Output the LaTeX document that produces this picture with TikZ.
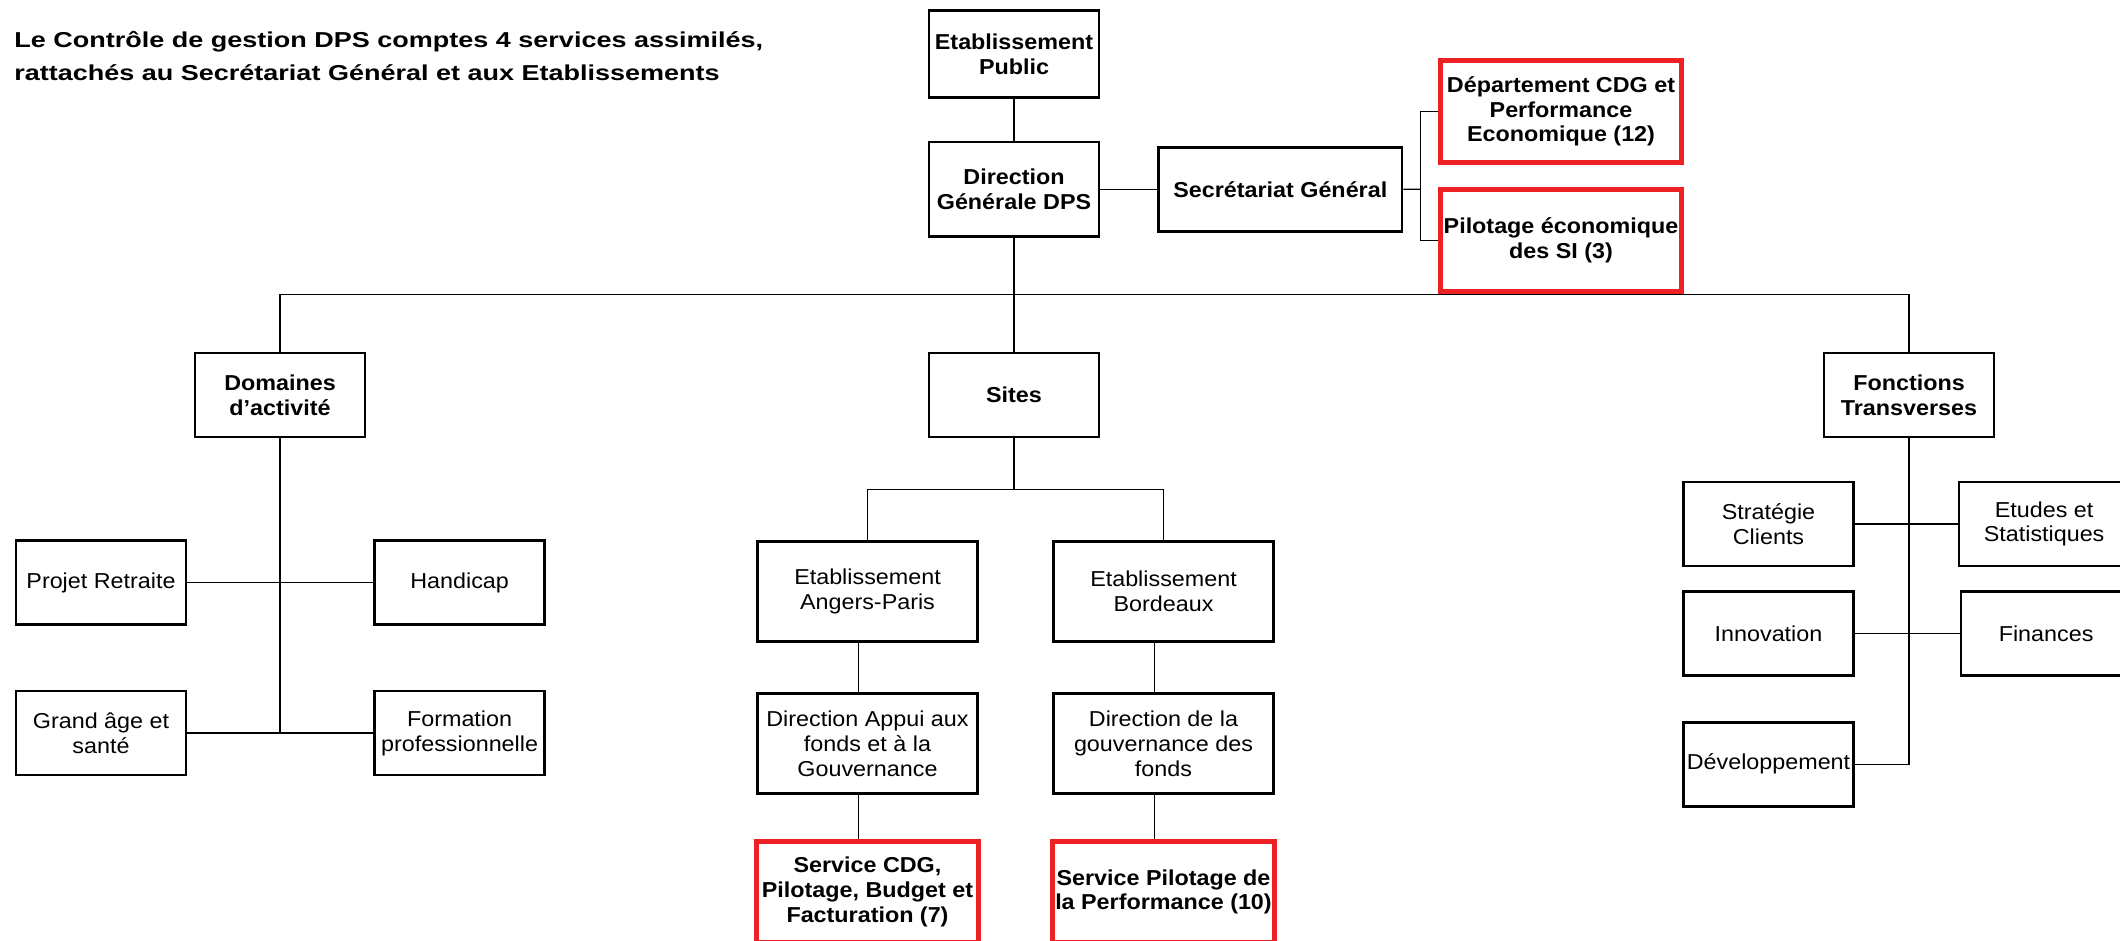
\documentclass[tikz,border=0pt]{standalone}
\usepackage{fontspec}
\setmainfont{Liberation Sans}[FakeStretch=1.08]
\newfontfamily\headfont{Liberation Sans}[FakeStretch=1.25]
\usetikzlibrary{positioning,calc}
\definecolor{cdgred}{RGB}{237,32,36}

\begin{document}
\begin{tikzpicture}[
    x=0.5pt, y=-0.5pt,
    box/.style={draw, line width=1.3pt, align=center, inner sep=1pt, font=\fontsize{10.8}{12.4}\selectfont},
    unit/.style={box, font=\fontsize{10.8}{12.4}\selectfont\bfseries, minimum width=85pt, minimum height=42pt},
    leaf/.style={box, minimum width=85pt, minimum height=42pt},
    site/.style={box, minimum width=110.2pt, minimum height=50.2pt},
    cdg/.style={box, draw=cdgred, line width=2.5pt, font=\fontsize{10.8}{12.4}\selectfont\bfseries, minimum width=120.5pt, minimum height=51pt},
    link/.style={line width=0.65pt},
    title/.style={font=\headfont\fontsize{10.8}{16.5}\selectfont\bfseries, align=left, inner sep=0pt}
  ]
  \path[use as bounding box] (0,0) rectangle (2120,941);

  % Title
  \node[title, anchor=north west] (title) at (14,31) {Le Contrôle de gestion DPS comptes 4 services assimilés,\\rattachés au Secrétariat Général et aux Etablissements};

  % Main components
  \node[unit, minimum height=43.5pt] (ep) at (1014,54) {Etablissement\\Public};
  \node[unit, minimum height=47.2pt, below=21pt of ep] (dg) {Direction\\Générale DPS};
  \node[unit, minimum width=121.7pt, right=28.5pt of dg] (sg) {Secrétariat Général};
  \node[cdg] (cdg_perf) at (1561,111.5) {Département CDG et\\Performance\\Economique (12)};
  \node[cdg, below=11pt of cdg_perf] (pilot_si) {Pilotage économique\\des SI (3)};

  % Second level
  \node[unit] (domaines) at (280,395) {Domaines\\d’activité};
  \node[unit] (sites) at (1014,395) {Sites};
  \node[unit] (fonctions) at (1909,395) {Fonctions\\Transverses};

  % Domaines d'activite
  \node[leaf] (retraite) at (101,582.5) {Projet Retraite};
  \node[leaf, right=93pt of retraite] (handicap) {Handicap};
  \node[leaf, below=32pt of retraite] (grand_age) {Grand âge et\\santé};
  \node[leaf, right=93pt of grand_age] (formation) {Formation\\professionnelle};

  % Sites
  \node[site] (angers) at (867.5,591.5) {Etablissement\\Angers-Paris};
  \node[site, right=36.5pt of angers] (bordeaux) {Etablissement\\Bordeaux};
  \node[site, below=24.5pt of angers] (appui) {Direction Appui aux\\fonds et à la\\Gouvernance};
  \node[site, below=24.5pt of bordeaux] (gouv) {Direction de la\\gouvernance des\\fonds};
  \node[cdg, minimum width=111pt, minimum height=50.5pt, below=22pt of appui] (svc_cdg) {Service CDG,\\Pilotage, Budget et\\Facturation (7)};
  \node[cdg, minimum width=111pt, minimum height=50.5pt, below=22pt of gouv] (svc_perf) {Service Pilotage de\\la Performance (10)};

  % Fonctions transverses
  \node[leaf] (strategie) at (1768.5,524) {Stratégie\\Clients};
  \node[leaf, right=51.5pt of strategie] (etudes) {Etudes et\\Statistiques};
  \node[leaf, below=11.5pt of strategie] (innovation) {Innovation};
  \node[leaf, right=52.5pt of innovation] (finances) {Finances};
  \node[leaf, below=22pt of innovation] (developpement) {Développement};

  % Connections
  \coordinate (main_bus) at ($(dg.south)+(0,57)$);
  \coordinate (sites_bus) at ($(sites.south)+(0,51)$);
  \coordinate (sg_fork) at ($(sg.east)!0.5!(sg.east -| cdg_perf.west)$);
  \draw[link] (ep) -- (dg);
  \draw[link] (dg) -- (sg);
  \draw[link] (sg.east) -- (sg_fork);
  \draw[link] (cdg_perf.west) -| (sg_fork) |- (pilot_si.west);
  \draw[link] (dg) -- (sites);
  \draw[link] (domaines.north) |- (main_bus) -| (fonctions.north);
  \draw[link] (domaines.south) -- (domaines.south |- grand_age.east);
  \draw[link] (retraite) -- (handicap);
  \draw[link] (grand_age) -- (formation);
  \draw[link] (sites.south) -- (sites_bus);
  \draw[link] (angers.north) |- (sites_bus) -| (bordeaux.north);
  \draw[link] ([xshift=-4.5pt]angers.south) -- ([xshift=-4.5pt]appui.north);
  \draw[link] ([xshift=-4.5pt]appui.south) -- ([xshift=-4.5pt]svc_cdg.north);
  \draw[link] ([xshift=-4.5pt]bordeaux.south) -- ([xshift=-4.5pt]gouv.north);
  \draw[link] ([xshift=-4.5pt]gouv.south) -- ([xshift=-4.5pt]svc_perf.north);
  \draw[link] (fonctions.south) |- (developpement.east);
  \draw[link] (strategie) -- (etudes);
  \draw[link] (innovation) -- (finances);

\end{tikzpicture}
\end{document}
